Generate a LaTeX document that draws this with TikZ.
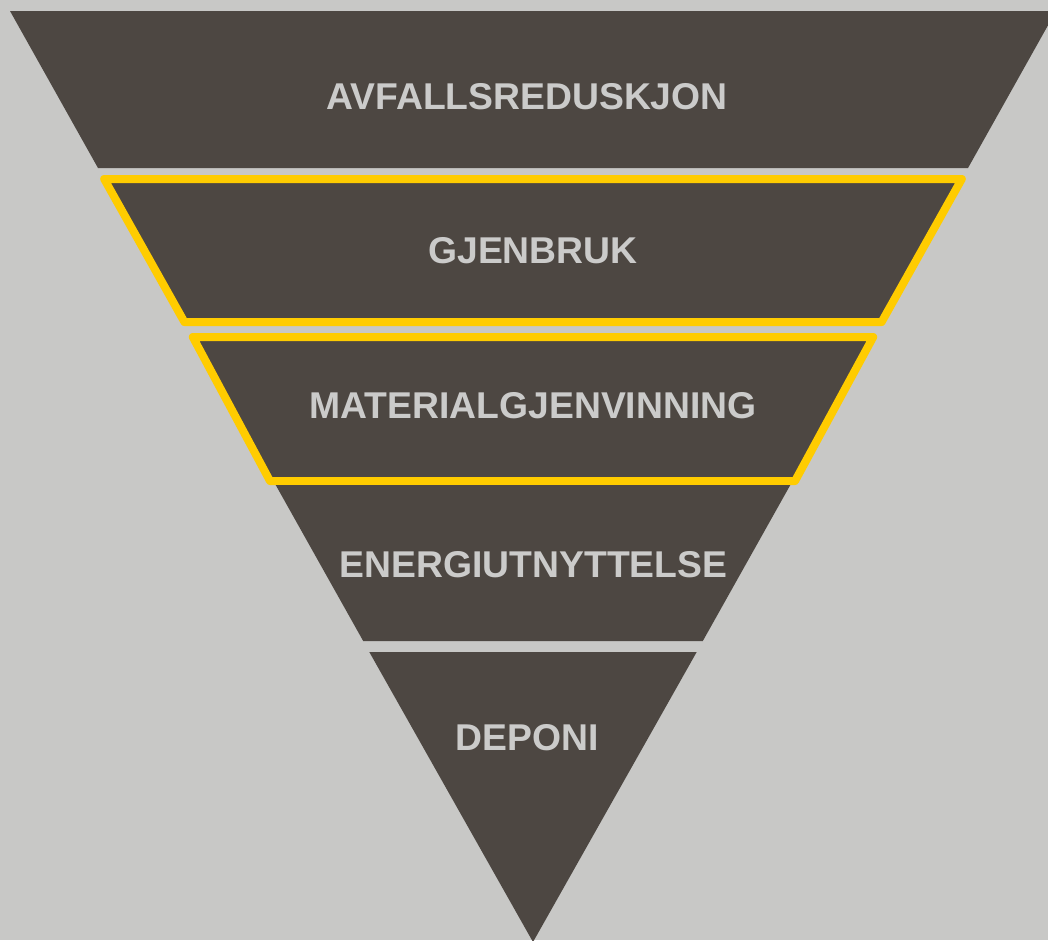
\documentclass[tikz,border=0pt]{standalone}
\usepackage{fontspec}
\setmainfont{Liberation Sans}
\definecolor{bggray}{HTML}{C8C8C6}
\definecolor{banddark}{HTML}{4D4742}
\definecolor{markyellow}{HTML}{FFCC00}
\definecolor{labelgray}{HTML}{CBCBCA}
\tikzset{
  band/.style={fill=banddark, draw=none},
  markline/.style={draw=markyellow, line width=8pt, line join=round},
  bandlabel/.style={text=labelgray, inner sep=0pt, font=\fontsize{37.3}{40}\selectfont\bfseries}
}
\begin{document}
\begin{tikzpicture}[x=1pt, y=-1pt]
  \useasboundingbox (0,0) rectangle (1048,940);
  \clip (0,0) rectangle (1048,940);
  \fill [bggray] (0,0) rectangle (1048,940);

  % Drawing band 1
  \fill [band] (10,11) -- (1056,11) -- (968,168) -- (98,168) -- cycle;
  \node [bandlabel] (avfall) at (527,97) {AVFALLSREDUSKJON};

  % Drawing band 2
  \fill [band] (104.2,179) -- (961.8,179) -- (881.6,322) -- (184.4,322) -- cycle;
  \draw [markline] (104.2,179) -- (961.8,179) -- (881.6,322) -- (184.4,322) -- cycle;
  \node [bandlabel] (gjenbruk) at (533,251) {GJENBRUK};

  % Drawing band 3
  \fill [band] (192.8,337) -- (873.2,337) -- (795,481) -- (270,481) -- cycle;
  \draw [markline] (192.8,337) -- (873.2,337) -- (795,481) -- (270,481) -- cycle;
  \node [bandlabel] (material) at (533,406) {MATERIALGJENVINNING};

  % Drawing band 4
  \fill [band] (275.7,485) -- (790.3,485) -- (702.8,641) -- (363.2,641) -- cycle;
  \node [bandlabel] (energi) at (533.5,564.5) {ENERGIUTNYTTELSE};

  % Drawing band 5
  \fill [band] (369.3,652) -- (696.7,652) -- (533,942) -- cycle;
  \node [bandlabel] (deponi) at (527,738) {DEPONI};
\end{tikzpicture}
\end{document}
